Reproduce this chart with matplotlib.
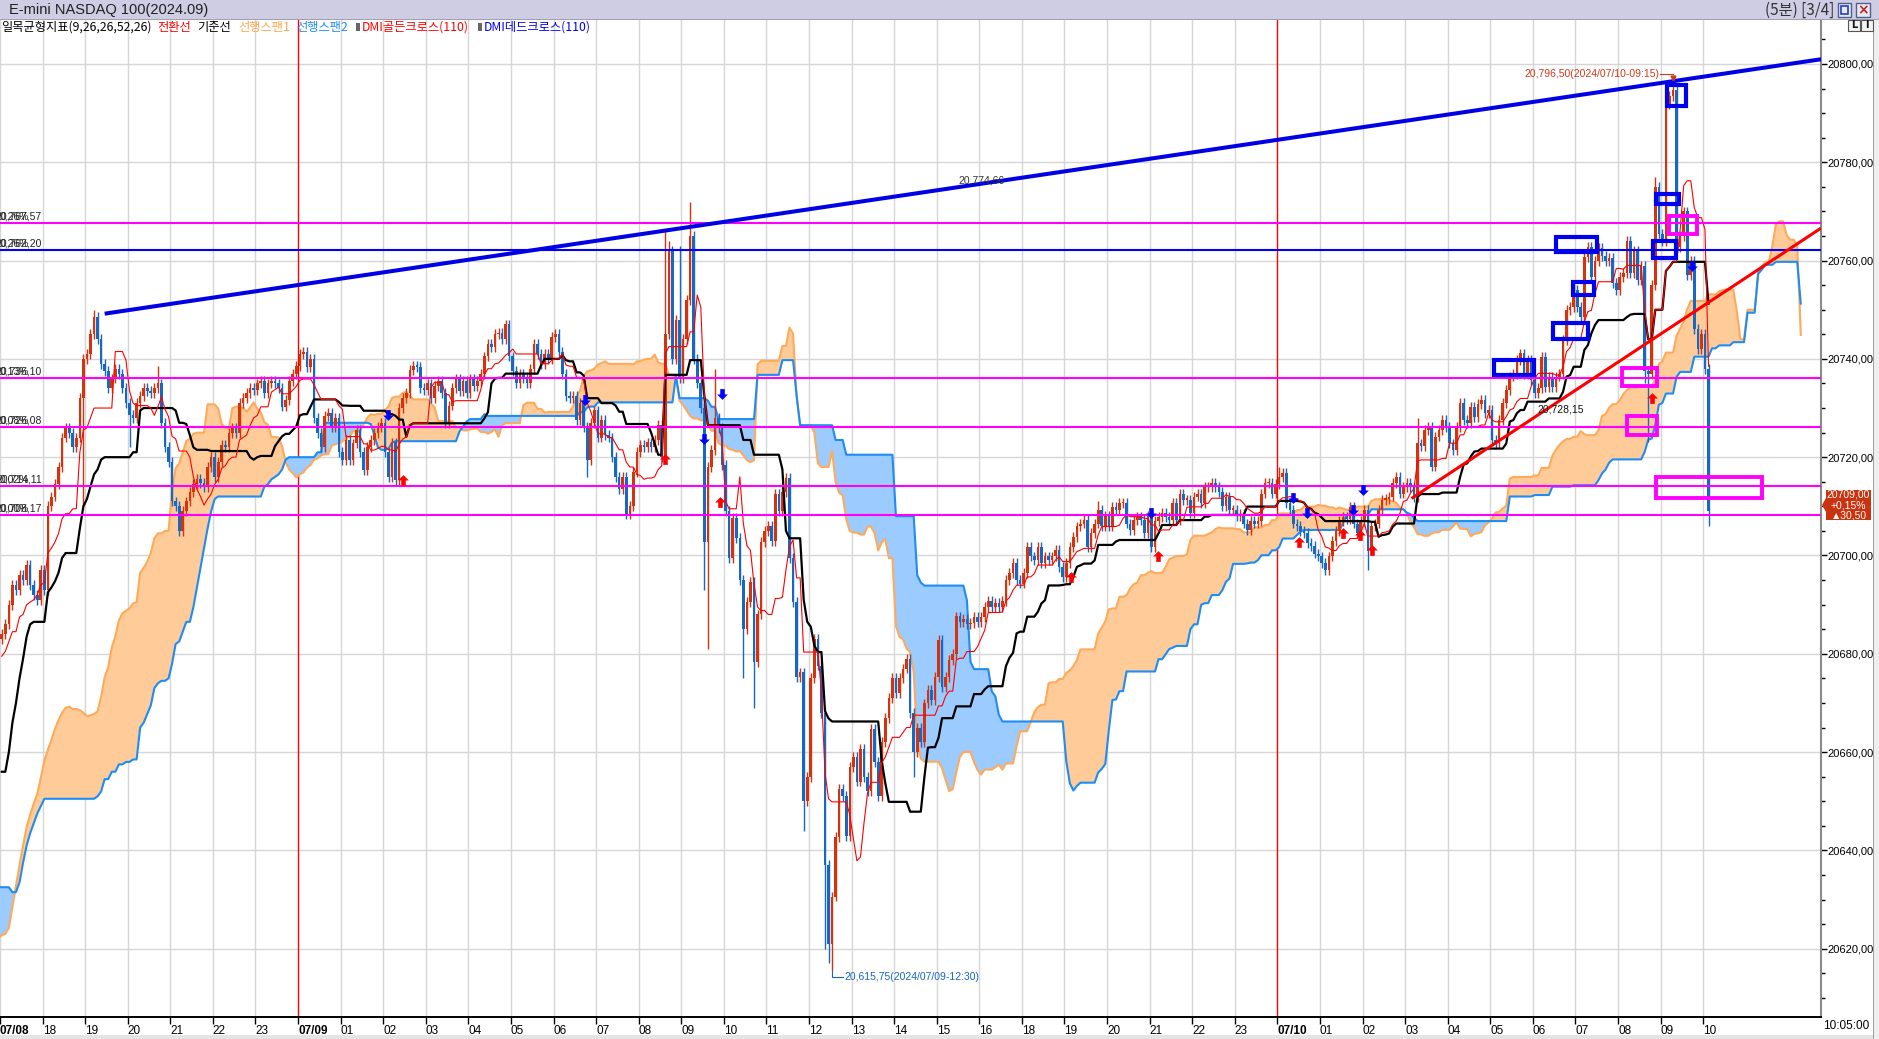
import numpy as np
import matplotlib
matplotlib.use('Agg')
import matplotlib.pyplot as plt
from matplotlib.patches import Rectangle, Polygon
from matplotlib import font_manager
from matplotlib.transforms import blended_transform_factory

plt.rcParams['font.family'] = ['Noto Sans CJK KR', 'DejaVu Sans']
names = {f.name for f in font_manager.fontManager.ttflist}
NUM_FONT = 'Liberation Sans Narrow' if 'Liberation Sans Narrow' in names else 'Liberation Sans'
NUM_SIZE = 10 if NUM_FONT.endswith('Narrow') else 8

# ---- data: 5 minute closes (bar 0 = 07/08 17:00) ----
# bars before the visible window, only used to seed the ichimoku lines
PRE_CLOSE = [20648, 20650, 20652, 20649, 20647, 20650, 20648, 20645, 20643, 20646, 20644, 20641, 20638, 20640, 20637, 20634, 20636, 20633, 20630,
             20628, 20625, 20622, 20619, 20617, 20615, 20614, 20613, 20615, 20614, 20616, 20615, 20617, 20616, 20618, 20617, 20619, 20618, 20620, 20619, 20621, 20620, 20622, 20621,
             20623, 20622, 20624, 20623, 20625, 20624, 20626, 20627, 20626, 20628,
             20624, 20630, 20638, 20646, 20654, 20662, 20669, 20674, 20678, 20682, 20685, 20688, 20687, 20685, 20682,
             20680, 20681, 20678, 20680, 20676, 20675, 20679, 20680, 20682, 20683]

CLOSE = [
    20684, 20686, 20690, 20694, 20693, 20696, 20695, 20698, 20694, 20692, 20691, 20697,              # 17
    20693, 20710, 20712, 20714.5, 20718, 20724, 20726, 20725, 20722, 20724, 20732, 20740,            # 18
    20741, 20745, 20748.5, 20744, 20739, 20737.5, 20734, 20736, 20738, 20737, 20734, 20731,          # 19
    20728.5, 20728, 20731, 20732.5, 20734, 20733.5, 20733, 20734, 20735, 20727, 20722, 20719,        # 20
    20711, 20710, 20705, 20709, 20711, 20713, 20714.5, 20715.5, 20714.7, 20714, 20718, 20720,        # 21
    20716, 20719, 20722.5, 20722, 20725, 20726, 20725, 20731, 20732, 20733, 20734, 20733.7,          # 22
    20735, 20735.5, 20733, 20735, 20735.5, 20735, 20734, 20730.3, 20731.6, 20735.5, 20737, 20738.5,  # 23
    20741, 20741.5, 20738.4, 20740, 20728, 20724.9, 20722, 20728.3, 20729, 20726.2, 20728, 20721,    # 07/09 00
    20719.5, 20723.5, 20719.4, 20722.8, 20725.5, 20721, 20717.4, 20722, 20723.5, 20724.9, 20726.2, 20727,
    20721, 20716, 20723, 20715.3, 20730, 20732, 20733, 20737.7, 20738.5, 20738.4, 20734, 20733.7,
    20735, 20732, 20734.5, 20735.5, 20733, 20727, 20730.5, 20734, 20736, 20733.5, 20735.5, 20733,
    20736, 20734.5, 20735.5, 20737, 20740.5, 20743, 20742.5, 20745, 20745.3, 20744, 20747, 20740.5,
    20737.5, 20735, 20737, 20736, 20735, 20738, 20743, 20741, 20739, 20741, 20740, 20744.5,
    20745, 20741.5, 20737, 20732.5, 20732, 20732.5, 20727.5, 20731, 20726.2, 20719.5, 20727, 20729.5,
    20724, 20727.5, 20724.5, 20724, 20720, 20716, 20713.5, 20716, 20708.5, 20710, 20717, 20721,
    20722.5, 20722, 20723, 20722, 20723.5, 20726.5, 20720, 20745, 20762, 20740, 20748, 20736,
    20744, 20752, 20765, 20740, 20735, 20730, 20702.7, 20718, 20721.4, 20728, 20726, 20718.4,
    20709, 20699.5, 20707.6, 20703.5, 20695, 20685, 20690.6, 20694.6, 20678.4, 20688, 20702.7, 20705,
    20706, 20703, 20712.5, 20709, 20713, 20715.7, 20699.5, 20690.6, 20675.2, 20676.2, 20650.1, 20655,
    20675, 20683, 20677.6, 20668, 20637, 20621, 20630.6, 20642.8, 20652.5, 20651, 20643, 20657,
    20659, 20654, 20660.6, 20655, 20652, 20664.7, 20658, 20651, 20662, 20667, 20671, 20675,
    20672, 20675, 20677, 20679, 20668, 20660, 20665, 20662, 20669.9, 20672.6, 20670.6, 20675.3,
    20682.8, 20673.3, 20675.3, 20678.7, 20680, 20687.6, 20686.5, 20687, 20686, 20686.2, 20687.5, 20686.5,
    20687.5, 20689.5, 20690.8, 20689.6, 20690.3, 20689.5, 20690.8, 20695, 20696.4, 20698.4, 20695, 20694.3,
    20696.4, 20701.8, 20699.8, 20699.1, 20701.8, 20698.4, 20699.8, 20699, 20699.8, 20701.1, 20697.7, 20695.7,  # 18
    20698.4, 20701.8, 20703.8, 20705.9, 20706.5, 20707.2, 20701.8, 20704.5, 20706.5, 20709.3, 20706, 20708,
    20706, 20709.9, 20709.3, 20710.6, 20710.6, 20706.5, 20705.2, 20707.2, 20707.9, 20707.2, 20704.5, 20708,
    20701.8, 20707, 20707.9, 20708.6, 20707.9, 20707.2, 20710.6, 20707.2, 20712.6, 20711.3, 20711.3, 20708.6,
    20712, 20712.6, 20710.6, 20714, 20714, 20714.7, 20714, 20713, 20710, 20712, 20709.3, 20709.3,
    20708, 20708.5, 20706.5, 20705.2, 20707, 20706.5, 20707, 20712.6, 20714.7, 20714.7, 20712.6, 20714.5,
    20716, 20716.7, 20710.6, 20709.3, 20706.5, 20706, 20705, 20704.5, 20702.5, 20702, 20700.4, 20699.8,  # 07/10 00
    20698.4, 20697, 20699.8, 20703, 20705, 20707, 20707.9, 20707.5, 20709.9, 20706.5, 20704.5, 20707,
    20709.3, 20701, 20706, 20706.5, 20709.3, 20711.3, 20711.5, 20712, 20714.7, 20716, 20712.6, 20714,
    20714.7, 20714, 20711.9, 20722.8, 20722.3, 20725.5, 20726.2, 20718.1, 20724.2, 20725.5, 20727.6, 20726.2,
    20722.8, 20721.5, 20726.2, 20731, 20727.6, 20726.9, 20730.3, 20728.2, 20730.9, 20731.6, 20728.9, 20729.6,
    20723.5, 20722.8, 20727.6, 20731, 20733.7, 20736.4, 20737, 20739.8, 20741.1, 20737, 20739.8, 20735.7,
    20733, 20734, 20740.4, 20734.3, 20736.4, 20734.3, 20736.4, 20737, 20743.8, 20750, 20750.6, 20754,
    20750.6, 20748.6, 20760.8, 20762.8, 20756.7, 20760, 20762.5, 20761, 20760, 20760.6, 20755.4, 20754,
    20756.7, 20757.4, 20764, 20757.4, 20762, 20756, 20759, 20737.5, 20737, 20755, 20775, 20765.5,
    20764, 20791.8, 20793.5, 20794.7, 20762.8, 20765, 20770, 20757, 20760, 20746, 20742, 20745,
    20738, 20709]

WICK = 1.0
HIGH_SPIKE = {26: 20750, 27: 20749.5, 44: 20738.5, 187: 20766, 188: 20764, 191: 20763, 194: 20772,
              195: 20766, 201: 20738, 309: 20711, 360: 20718, 399: 20728, 466: 20777, 471: 20796.5}
LOW_SPIKE = {23: 20710, 36: 20722, 165: 20716, 198: 20693, 199: 20681, 209: 20675, 212: 20669,
             226: 20644, 232: 20620, 233: 20617, 234: 20615.75, 257: 20655, 385: 20697, 463: 20735,
             464: 20723, 481: 20706}

TICK_LABELS = (['07/08', '18', '19', '20', '21', '22', '23', '07/09']
               + ['%02d' % h for h in range(1, 17)] + ['18', '19', '20', '21', '22', '23', '07/10']
               + ['%02d' % h for h in range(1, 11)])

LEVELS = [20767.57, 20762.20, 20736.10, 20726.08, 20714.11, 20708.17]
LEVEL_COLORS = ['#ff00ff', '#0000ff', '#ff00ff', '#ff00ff', '#ff00ff', '#ff00ff']
LEVEL_PCT = ['0,26%', '0,26%', '0,13%', '0,08%', '0,02%', '0,00%']

TREND_BLUE = [(29.0, 20749.2), (471.0, 20796.5)]
TREND_RED = [(397.3, 20711.6), (512.7, 20766.6)]

BLUE_BOXES = [(420.6, 431.7, 20736.7, 20739.8), (437.9, 449.7, 20761.8, 20764.9),
              (442.8, 448.6, 20752.9, 20755.7), (437.1, 446.9, 20744.0, 20747.4),
              (469.2, 474.6, 20791.4, 20795.7), (466.1, 472.8, 20771.6, 20773.5),
              (465.3, 471.8, 20760.6, 20764.0)]
MAGENTA_BOXES = [(470.0, 477.8, 20765.5, 20769.1), (456.7, 466.4, 20734.5, 20738.1),
                 (458.0, 466.4, 20724.5, 20728.4), (466.1, 496.0, 20711.6, 20715.9)]

GOLDEN = [(113, 20715.4), (187, 20719.6), (202.5, 20710.8), (301.4, 20695.7), (325.8, 20699.8),
          (365.7, 20702.8), (378.1, 20704.5), (382.9, 20704.2), (386.2, 20701.1), (465.2, 20732.0)]
DEAD = [(108.9, 20728.6), (164.4, 20731.6), (198, 20723.8), (203, 20732.9), (323.8, 20708.7),
        (363.9, 20711.6), (367.8, 20708.6), (380.7, 20709.3), (383.7, 20713.3), (476.4, 20759.0)]

UP_COL = '#d5320e'
DN_COL = '#1767c3'

# ---- candles + ichimoku ----
pre = np.array(PRE_CLOSE, float)
cl = np.array(CLOSE, float)
n_pre = len(pre)
allc = np.r_[pre, cl]
allo = np.r_[allc[0], allc[:-1]]
allh = np.maximum(allo, allc) + WICK
alll = np.minimum(allo, allc) - WICK
for k, v in HIGH_SPIKE.items():
    allh[n_pre + k] = max(allh[n_pre + k], v)
for k, v in LOW_SPIKE.items():
    alll[n_pre + k] = min(alll[n_pre + k], v)


def midline(n):
    hi = np.array([allh[max(0, i - n + 1):i + 1].max() for i in range(len(allh))])
    lo = np.array([alll[max(0, i - n + 1):i + 1].min() for i in range(len(alll))])
    return (hi + lo) / 2


conv = midline(9)
base = midline(26)
span_b = midline(52)
span_a = (conv + base) / 2

W, H = 1879, 1039
fig = plt.figure(figsize=(W / 100, H / 100), dpi=100)
fig.patch.set_facecolor('white')
ax = fig.add_axes([0, 1 - 1017 / H, 1821 / W, (1017 - 20) / H])
ax.set_xlim(0.344, 512.7)
ax.set_ylim(20606.1, 20808.95)

ticks = [12 * k - 0.5 for k in range(len(TICK_LABELS))]
for t, lab in zip(ticks, TICK_LABELS):
    if lab in ('07/09', '07/10'):
        ax.axvline(t, color='#ff0000', lw=1, zorder=0.5)
    else:
        ax.axvline(t, color='#d6d6d6', lw=1, zorder=0.2)
for v in range(20620, 20801, 20):
    ax.axhline(v, color='#d6d6d6', lw=1, zorder=0.2)

# cloud
xs = np.arange(len(allc)) - n_pre + 26
m = xs >= -1
xs, sa, sb = xs[m], span_a[m], span_b[m]
ax.fill_between(xs, sa, sb, where=sa >= sb, interpolate=True, color='#ffcc99', lw=0, zorder=1)
ax.fill_between(xs, sa, sb, where=sa < sb, interpolate=True, color='#9ccbff', lw=0, zorder=1)
ax.plot(xs, sa, color='#ffaa5a', lw=1.5, zorder=2)
ax.plot(xs, sb, color='#1e8cf5', lw=1.5, zorder=2)

# candles
xv = np.arange(len(cl))
o = allo[n_pre:]
h = allh[n_pre:]
l = alll[n_pre:]
cols = np.where(cl >= o, UP_COL, DN_COL)
ax.vlines(xv, l, h, colors=cols, lw=1, zorder=3)
ax.bar(xv, np.maximum(np.abs(cl - o), 0.3), bottom=np.minimum(o, cl), width=0.74,
       color=cols, lw=0, zorder=3)

ax.plot(xv, base[n_pre:], color='black', lw=1.6, zorder=4)
ax.plot(xv, conv[n_pre:], color='#ff0000', lw=0.8, zorder=4)

# horizontal levels + labels (percent and price overlap as in the source)
blend = blended_transform_factory(ax.transAxes, ax.transData)
for v, c, p in zip(LEVELS, LEVEL_COLORS, LEVEL_PCT):
    ax.axhline(v, color=c, lw=1.5, zorder=5)
    ax.text(0.0, v + 0.35, p, transform=blend, ha='left', va='bottom', fontsize=NUM_SIZE - 0.5,
            family=NUM_FONT, color='#222222', zorder=8)
    ax.text(42 / 1821, v + 0.35, f'{v:,.2f}'.replace('.', ','),
            transform=blend, ha='right', va='bottom', fontsize=NUM_SIZE - 0.5, family=NUM_FONT,
            color='#222222', zorder=8)

# trend lines
x0, y0 = TREND_BLUE[0]
x1, y1 = TREND_BLUE[1]
sl = (y1 - y0) / (x1 - x0)
ax.plot([x0, 512.7], [y0, y1 + sl * (512.7 - x1)], color='#0000e6', lw=2.9, zorder=6,
        solid_capstyle='butt')
ax.plot([p[0] for p in TREND_RED], [p[1] for p in TREND_RED], color='#ff0000', lw=2.2, zorder=6,
        solid_capstyle='butt')

for bx0, bx1, by0, by1 in BLUE_BOXES:
    ax.add_patch(Rectangle((bx0, by0), bx1 - bx0, by1 - by0, fill=False, ec='#0000f0', lw=3.0, zorder=7))
for bx0, bx1, by0, by1 in MAGENTA_BOXES:
    ax.add_patch(Rectangle((bx0, by0), bx1 - bx0, by1 - by0, fill=False, ec='#ff00ff', lw=2.8, zorder=7))

# DMI signal arrows
up_arrow = [(0, 1), (1, 0), (0.42, 0), (0.42, -1), (-0.42, -1), (-0.42, 0), (-1, 0), (0, 1)]
dn_arrow = [(px, -py) for px, py in up_arrow]
ax.scatter([g[0] for g in GOLDEN], [g[1] for g in GOLDEN], marker=up_arrow, s=60,
           c='#ff0000', linewidths=0, zorder=8)
ax.scatter([d[0] for d in DEAD], [d[1] for d in DEAD], marker=dn_arrow, s=60,
           c='#0000ff', linewidths=0, zorder=8)

# annotations
peak_i = int(np.argmax(h))
ax.text(467.2, 20797.9, '20,796,50(2024/07/10-09:15)', ha='right', va='center', color='#d0381a',
        fontsize=NUM_SIZE - 0.5, family=NUM_FONT, zorder=8)
ax.plot([467.4, peak_i], [20797.9, 20797.9], color='#d0381a', lw=0.8, zorder=8)
ax.plot([peak_i], [20797.2], marker='v', ms=3.5, color='#d0381a', zorder=8)

low_i = int(np.argmin(l))
ax.plot([low_i, low_i, low_i + 3.2], [l[low_i], 20614.2, 20614.2], color='#1767c3', lw=0.8, zorder=8)
ax.text(low_i + 3.4, 20614.2, '20,615,75(2024/07/09-12:30)', ha='left', va='center', color='#1767c3',
        fontsize=NUM_SIZE - 0.5, family=NUM_FONT, zorder=8)
ax.text(269.5, 20776.2, '20,774,66', ha='left', va='center', color='#333333',
        fontsize=NUM_SIZE - 0.5, family=NUM_FONT, zorder=8)
ax.text(432.8, 20729.8, '20,728,15', ha='left', va='center', color='#111111',
        fontsize=NUM_SIZE - 0.5, family=NUM_FONT, zorder=8)

# axes styling
for s in ('top', 'left'):
    ax.spines[s].set_visible(False)
ax.spines['bottom'].set_color('black')
ax.spines['bottom'].set_linewidth(1.4)
ax.spines['right'].set_color('#8a8a8a')
ax.spines['right'].set_linewidth(1.5)

ax.set_xticks(ticks)
ax.set_xticklabels(TICK_LABELS, family=NUM_FONT, fontsize=NUM_SIZE + 0.5)
for lbl in ax.get_xticklabels():
    lbl.set_ha('left')
    if '/' in lbl.get_text():
        lbl.set_fontweight('bold')
ax.tick_params(axis='x', length=5, width=1, pad=1, colors='black')

ax.yaxis.tick_right()
yt = list(range(20620, 20801, 20))
ax.set_yticks(yt)
ax.set_yticklabels([f'{v},00' for v in yt], family=NUM_FONT, fontsize=NUM_SIZE)
ax.set_yticks(list(range(20610, 20806, 5)), minor=True)
ax.tick_params(axis='y', which='major', length=4, width=1, pad=0.5, colors='black')
ax.tick_params(axis='y', which='minor', length=3, width=1, colors='black')


def fx(px):
    return px / W


def fy(py):
    return 1 - py / H


# title bar
fig.patches.append(Rectangle((0, fy(19)), 1, 19 / H, transform=fig.transFigure,
                             facecolor='#cfcde4', edgecolor='none', zorder=0))
fig.patches.append(Rectangle((0, fy(19.5)), 1, 1 / H, transform=fig.transFigure,
                             facecolor='#a0a0b0', edgecolor='none', zorder=0))
fig.text(fx(9), fy(10), 'E-mini NASDAQ 100(2024.09)', ha='left', va='center', fontsize=10.5,
         family=NUM_FONT, color='#202020')
fig.text(fx(1834), fy(10), '(5분) [3/4]', ha='right', va='center', fontsize=11, color='#333333',
         family=['Noto Sans CJK KR', 'DejaVu Sans'])
fig.patches.append(Rectangle((fx(1838), fy(17)), 13 / W, 14 / H, transform=fig.transFigure,
                             facecolor='#e8e8f0', edgecolor='#506090', lw=1, zorder=2))
fig.patches.append(Rectangle((fx(1841), fy(14)), 7 / W, 8 / H, transform=fig.transFigure,
                             facecolor='none', edgecolor='#2040c0', lw=1.2, zorder=3))
fig.patches.append(Rectangle((fx(1856), fy(17)), 14 / W, 14 / H, transform=fig.transFigure,
                             facecolor='#e8e8f0', edgecolor='#506090', lw=1, zorder=2))
fig.text(fx(1863), fy(10), '×', ha='center', va='center', fontsize=10, color='#c02020',
         family='DejaVu Sans', fontweight='bold')

# small L / I buttons at the top of the price scale
for bx, t in ((1848, 'L'), (1861, 'I')):
    fig.patches.append(Rectangle((fx(bx), fy(31)), 12 / W, 11 / H, transform=fig.transFigure,
                                 facecolor='#f2f2f2', edgecolor='#555555', lw=0.8, zorder=2))
    fig.text(fx(bx + 6), fy(25.5), t, ha='center', va='center', fontsize=7, color='#111111',
             family='DejaVu Sans', fontweight='bold')

# legend row
LEGEND = [('일목균형지표(9,26,26,52,26)', '#000000', 1), ('전환선', '#ff0000', 157),
          ('기준선', '#000000', 197), ('선행스팬1', '#ffa64d', 238), ('선행스팬2', '#1e8cf5', 296),
          ('DMI골든크로스(110)', '#ff0000', 362), ('DMI데드크로스(110)', '#0000ff', 484)]
for txt, c, px in LEGEND:
    fig.text(fx(px), fy(27), txt, ha='left', va='center', fontsize=8.8, color=c)
for px in (356, 478):
    fig.patches.append(Rectangle((fx(px), fy(31)), 4 / W, 8 / H, transform=fig.transFigure,
                                 facecolor='#666666', edgecolor='none', zorder=3))

# last price box
box = [(1822, 505), (1826, 498), (1826, 490), (1871, 490), (1871, 520), (1826, 520), (1826, 512)]
fig.patches.append(Polygon([(fx(a), fy(b)) for a, b in box], closed=True, transform=fig.transFigure,
                           facecolor='#c9330f', edgecolor='none', zorder=5))
for i, txt in enumerate([f'{CLOSE[-1]:.2f}'.replace('.', ','), '+0,15%', '▲30,50']):
    fig.text(fx(1848.5), fy(495 + 10 * i), txt, ha='center', va='center', fontsize=NUM_SIZE - 0.5,
             color='white', family=[NUM_FONT, 'DejaVu Sans'], zorder=6)

fig.text(fx(1869), fy(1026), '10:05:00', ha='right', va='center', fontsize=NUM_SIZE + 0.5,
         family=NUM_FONT, color='black')

# borders
fig.patches.append(Rectangle((fx(1874), 0), 5 / W, fy(20), transform=fig.transFigure,
                             facecolor='#eeeeee', edgecolor='none', zorder=0))
fig.patches.append(Rectangle((fx(1873), 0), 1 / W, fy(20), transform=fig.transFigure,
                             facecolor='#a0a0a0', edgecolor='none', zorder=1))
fig.patches.append(Rectangle((0, 0), fx(1873), 4 / H, transform=fig.transFigure,
                             facecolor='#e4e4e4', edgecolor='none', zorder=0))

fig.savefig('out.png', dpi=100)
